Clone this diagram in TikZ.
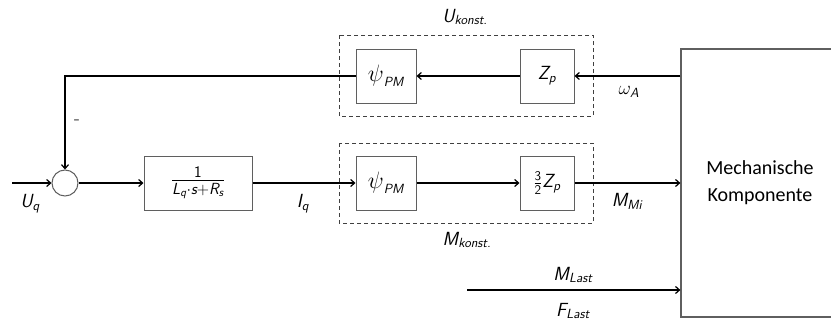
\documentclass[tikz,border=0pt]{standalone}
\usepackage{fix-cm}
\usepackage{amsmath}
\usepackage{graphicx}
\usepackage{fontspec}
\newfontfamily\carlito{Carlito}
\usetikzlibrary{arrows.meta,calc}
\newcommand\sv[2]{\ensuremath{\textsf{\itshape #1}_{\textsf{\itshape #2}}}}
\newcommand\si[1]{\textsf{\itshape #1}}
\newcommand\bpsi{\ensuremath{\scalebox{1.25}{$\psi$}_{\si{PM}}}}
\definecolor{boxgray}{RGB}{95,95,95}
\tikzset{
  blk/.style={draw=boxgray, line width=1pt, minimum height=54pt, inner sep=0pt, font=\fontsize{19}{23}\selectfont},
  dbox/.style={draw=black!75, line width=0.9pt, dash pattern=on 4pt off 3pt},
  sig/.style={line width=1.2pt, -{Straight Barb[length=4pt,width=7pt]}},
  lin/.style={line width=1.2pt},
  lbl/.style={font=\fontsize{19}{23}\selectfont, inner sep=0pt},
}
\begin{document}
\begin{tikzpicture}[x=1pt,y=-1pt]
\useasboundingbox (0,0) rectangle (831,324);
\clip (0,0) rectangle (831,324);
% dashed groups
\draw[dbox] (339,35) rectangle (593,116);
\draw[dbox] (339,143) rectangle (593,223);
% blocks
\node[circle, draw=boxgray, line width=1pt, minimum size=26pt, inner sep=0pt] (sum) at (65,183) {};
\node[blk, minimum width=108pt, font=\fontsize{23}{27}\selectfont] (G) at (198,183) {$\frac{\textsf{1}}{\sv{L}{q}\cdot\si{s}+\sv{R}{s}}$};
\node[blk, minimum width=60pt] (psiU) at (386,76) {\bpsi};
\node[blk, minimum width=54pt] (zU) at (547,76) {\sv{Z}{p}};
\node[blk, minimum width=60pt] (psiL) at (386,183) {\bpsi};
\node[blk, minimum width=54pt] (zL) at (547,183) {$\frac{\textsf{3}}{\textsf{2}}$\sv{Z}{p}};
\node[draw=boxgray, line width=1.2pt, minimum width=158pt, minimum height=268pt, inner sep=0pt, align=center, font=\carlito\fontsize{20}{27}\selectfont] (mech) at (760,183) {Mechanische\\Komponente};
% coordinates
\coordinate (uin) at (12,183);
\coordinate (fbc) at (65,75);
\coordinate (last) at (467,290);
% connectors
\draw[sig] (uin) -- (sum.west);
\draw[lin] (psiU.west) -- (psiU.west -| fbc) -- (fbc);
\draw[sig] (fbc) -- (sum.north);
\draw[sig] (sum.east) -- (G.west);
\draw[sig] (G.east) -- (psiL.west);
\draw[sig] (psiL.east) -- (zL.west);
\draw[sig] (zL.east) -- (zL.east -| mech.west);
\draw[sig] (zU.east -| mech.west) -- (zU.east);
\draw[sig] (zU.west) -- (psiU.east);
\draw[sig] (last) -- (last -| mech.west);
% labels
\node[lbl] (lUq) at (30,204) {\sv{U}{q}};
\node[lbl] (lm) at (77,122) {-};
\node[lbl] (lIq) at (303,204) {\sv{I}{q}};
\node[lbl] (lUk) at (465,17) {\sv{U}{konst.}};
\node[lbl] (lMk) at (467,240) {\sv{M}{konst.}};
\node[lbl] (lw) at (629,92) {$\omega_{\si{A}}$};
\node[lbl] (lMM) at (627,201) {\sv{M}{Mi}};
\node[lbl] (lML) at (573,275) {\sv{M}{Last}};
\node[lbl] (lFL) at (573,311) {\sv{F}{Last}};
\end{tikzpicture}
\end{document}
